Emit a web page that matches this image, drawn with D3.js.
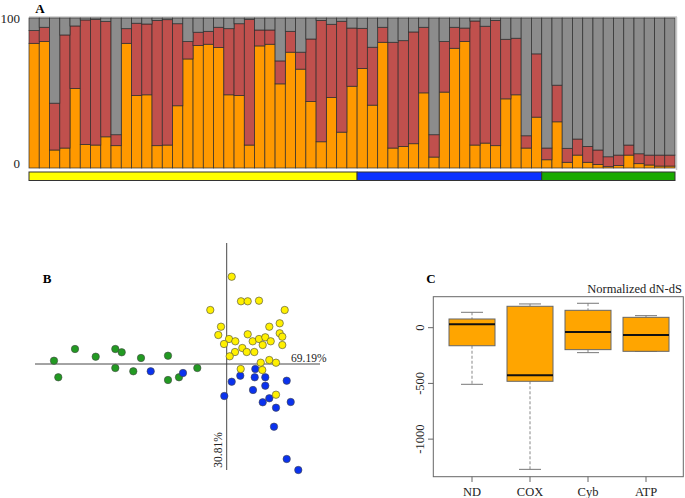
<!DOCTYPE html>
<html><head><meta charset="utf-8">
<script src="https://cdn.jsdelivr.net/npm/d3@7/dist/d3.min.js"></script>
<style>body{margin:0;background:#fff}svg{display:block}text{font-family:"Liberation Serif","DejaVu Serif",serif}</style>
</head><body><svg id="c" width="685" height="498"></svg>
<script>
// ---------- Panel A data (percent per sample) ----------
const orangePct = [83.1,84.3,12.0,13.3,53.0,15.7,15.3,20.8,14.9,83.1,48.3,48.8,14.9,15.3,41.5,72.7,81.6,82.5,80.3,48.8,48.3,15.3,81.4,82.5,56.1,77.2,65.9,44.3,17.5,47.0,23.9,54.5,
  66.3,41.9,83.8,13.3,14.4,16.2,50.1,7.3,50.6,79.8,84.3,15.3,16.6,14.9,46.1,48.8,13.3,33.9,
  5.5,30.8,3.8,8.6,3.8,2.4,0.9,1.6,8.6,2.9,2.0,1.3,1.3];
const redPct = [8.5,9.5,31.2,75.4,41.7,83.0,83.8,76.8,7.3,9.8,48.2,47.2,83.5,83.6,54.7,11.6,8.9,8.6,13.5,44.1,47.9,83.8,10.6,9.5,15.3,13.9,11.3,41.7,80.9,48.8,73.9,38.8,
  26.8,38.6,10.0,70.5,70.5,74.5,43.7,14.9,33.7,14.0,9.0,82.7,77.9,83.5,39.7,37.7,8.2,42.2,
  7.8,24.4,9.3,10.7,10.6,9.6,6.6,7.0,6.7,6.6,6.6,7.3,7.3];
const grayPct = orangePct.map((o,i)=>Math.max(0, 100 - o - redPct[i]));
const groups = [{name:"yellow",start:0,end:32},{name:"blue",start:32,end:50},{name:"green",start:50,end:63}];
const yTicksA = [0,100];

// ---------- Panel B data (PCA coordinates) ----------
const pcGreen = [[-1.727,0.033],[-1.684,-0.133],[-1.517,0.15],[-1.31,0.073],[-1.114,0.15],[-1.05,0.117],[-1.114,-0.04],[-0.934,-0.073],[-0.857,0.06],[-0.587,0.083],[-0.587,-0.16],[-0.477,-0.133],[-0.294,-0.04]];
const pcBlue = [[-0.76,-0.073],[-0.437,-0.09],[-0.024,-0.32],[0.05,-0.177],[0.136,-0.117],[0.286,-0.05],[0.28,-0.133],[0.263,-0.26],[0.386,-0.133],[0.386,-0.217],[0.426,-0.343],[0.36,-0.383],[0.493,-0.437],[0.6,-0.167],[0.64,-0.38],[0.473,-0.627],[0.6,-0.95],[0.716,-1.06]];
const pcYellow = [[0.05,0.873],[0.143,0.627],[0.21,0.627],[0.323,0.633],[-0.164,0.54],[0.58,0.54],[-0.057,0.373],[0.426,0.373],[0.53,0.407],[-0.084,0.29],[0.21,0.297],[0.53,0.307],[0.556,0.273],[0.023,0.25],[0.086,0.227],[-0.027,0.2],[0.26,0.227],[0.323,0.25],[0.386,0.267],[0.44,0.227],[0.36,0.19],[0.556,0.19],[0.156,0.16],[0.083,0.12],[0.2,0.12],[0.276,0.12],[0.03,0.077],[0.34,0.013],[0.426,0.04],[0.493,0.013],[0.14,-0.05],[0.356,-0.06],[0.493,-0.307]];
const pc1Label = "69.19%", pc2Label = "30.81%";

// ---------- Panel C data (boxplot stats) ----------
const genes = ["ND","COX","Cyb","ATP"];
const whiskLo = [-508,-1271,-224,-212];
const q1 = [-162,-481,-197,-212];
const med = [30,-427,-39,-66];
const q3 = [78,192,156,93];
const whiskHi = [138,213,219,108];
const yTicksC = [0,-500,-1000];

const svg = d3.select("#c");
const col = {orange:"#FF9900", red:"#C0504D", gray:"#8C8C8C"};
const grpCol = {yellow:"#FFFF00", blue:"#0A32FF", green:"#1AAA00"};

// ===== Panel A =====
const xA = d3.scaleBand().domain(d3.range(orangePct.length)).range([29,675]).padding(0);
const yA = d3.scaleLinear().domain([0,100]).range([168,18]);
const gA = svg.append("g");
gA.append("line").attr("x1",29).attr("x2",677).attr("y1",17).attr("y2",17).attr("stroke","#c8c8c8").attr("stroke-width",1.5);
gA.append("line").attr("x1",676.5).attr("x2",676.5).attr("y1",17).attr("y2",170).attr("stroke","#c8c8c8").attr("stroke-width",1.5);
const stackData = orangePct.map((o,i)=>({i, orange:o, red:redPct[i], gray:grayPct[i]}));
const series = d3.stack().keys(["orange","red","gray"])(stackData);
series.forEach(s=>{
  gA.selectAll(null).data(s).enter().append("rect")
    .attr("x",d=>xA(d.data.i)).attr("width",xA.bandwidth())
    .attr("y",d=>yA(d[1])).attr("height",d=>yA(d[0])-yA(d[1]))
    .attr("fill",col[s.key]).attr("stroke","#2a2a2a").attr("stroke-width",0.8).attr("stroke-opacity",0.85);
});
gA.selectAll(null).data(groups).enter().append("rect")
  .attr("x",d=>xA(d.start)).attr("width",d=>xA(d.end-1)+xA.bandwidth()-xA(d.start))
  .attr("y",172).attr("height",8.5).attr("fill",d=>grpCol[d.name]).attr("stroke","#333").attr("stroke-width",1);
gA.selectAll(null).data(yTicksA).enter().append("text")
  .attr("x",20).attr("y",d=>yA(d)+(d===100?2:-3)).attr("text-anchor","end").attr("dominant-baseline","middle")
  .attr("font-size",13).attr("fill","#222").text(d=>d);
gA.append("text").attr("x",40).attr("y",13).attr("text-anchor","middle").attr("font-size",13).attr("font-weight","bold").text("A");

// ===== Panel B =====
const xB = d3.scaleLinear().domain([-1.917,0.933]).range([35,320]);
const yB = d3.scaleLinear().domain([-1.06,1.21]).range([470,243]);
const gB = svg.append("g");
gB.append("line").attr("x1",xB.range()[0]).attr("x2",xB.range()[1]).attr("y1",yB(0)).attr("y2",yB(0)).attr("stroke","#333").attr("stroke-width",0.9);
gB.append("line").attr("x1",xB(0)).attr("x2",xB(0)).attr("y1",yB.range()[1]).attr("y2",yB.range()[0]).attr("stroke","#333").attr("stroke-width",0.9);
const pts = [].concat(pcGreen.map(p=>({p,c:"#229A22"})), pcBlue.map(p=>({p,c:"#0A32EE"})), pcYellow.map(p=>({p,c:"#FFF000"})));
gB.selectAll("circle").data(pts).enter().append("circle")
  .attr("cx",d=>xB(d.p[0])).attr("cy",d=>yB(d.p[1])).attr("r",3.7)
  .attr("fill",d=>d.c).attr("stroke","#444").attr("stroke-width",0.6);
gB.append("text").attr("x",291).attr("y",362).attr("font-size",11.5).attr("fill","#222").text(pc1Label);
gB.append("text").attr("transform","translate(222,450) rotate(-90)").attr("text-anchor","middle").attr("font-size",11.5).attr("fill","#222").text(pc2Label);
gB.append("text").attr("x",47).attr("y",283).attr("text-anchor","middle").attr("font-size",13).attr("font-weight","bold").text("B");

// ===== Panel C =====
const xC = d3.scalePoint().domain(genes).range([472,646]);
const yC = d3.scaleLinear().domain([-1337,278]).range([476.7,296.7]);
const gC = svg.append("g");
gC.append("rect").attr("x",433.3).attr("y",296.7).attr("width",250).attr("height",180).attr("fill","none").attr("stroke","#666").attr("stroke-width",1);
gC.selectAll(null).data(yTicksC).enter().append("line")
  .attr("x1",428).attr("x2",433.3).attr("y1",d=>yC(d)).attr("y2",d=>yC(d)).attr("stroke","#666");
gC.selectAll(null).data(yTicksC).enter().append("text")
  .attr("transform",d=>`translate(424,${yC(d)}) rotate(-90)`).attr("text-anchor","middle")
  .attr("font-size",12.5).attr("fill","#222").text(d=>d);
gC.selectAll(null).data(genes).enter().append("line")
  .attr("x1",d=>xC(d)).attr("x2",d=>xC(d)).attr("y1",476.7).attr("y2",482).attr("stroke","#666");
gC.selectAll(null).data(genes).enter().append("text")
  .attr("x",d=>xC(d)).attr("y",495.5).attr("text-anchor","middle").attr("font-size",12.5).attr("fill","#222").text(d=>d);
const bw = 46, cw = 22;
genes.forEach((g,i)=>{
  const cx = xC(g);
  gC.append("line").attr("x1",cx).attr("x2",cx).attr("y1",yC(whiskHi[i])).attr("y2",yC(q3[i])).attr("stroke","#888").attr("stroke-dasharray","3,2");
  gC.append("line").attr("x1",cx).attr("x2",cx).attr("y1",yC(q1[i])).attr("y2",yC(whiskLo[i])).attr("stroke","#888").attr("stroke-dasharray","3,2");
  gC.append("line").attr("x1",cx-cw/2).attr("x2",cx+cw/2).attr("y1",yC(whiskHi[i])).attr("y2",yC(whiskHi[i])).attr("stroke","#777");
  gC.append("line").attr("x1",cx-cw/2).attr("x2",cx+cw/2).attr("y1",yC(whiskLo[i])).attr("y2",yC(whiskLo[i])).attr("stroke","#777");
  gC.append("rect").attr("x",cx-bw/2).attr("width",bw).attr("y",yC(q3[i])).attr("height",yC(q1[i])-yC(q3[i]))
    .attr("fill","#FFA500").attr("stroke","#666").attr("stroke-width",1);
  gC.append("line").attr("x1",cx-bw/2).attr("x2",cx+bw/2).attr("y1",yC(med[i])).attr("y2",yC(med[i])).attr("stroke","#111").attr("stroke-width",2);
});
gC.append("text").attr("x",682).attr("y",293).attr("text-anchor","end").attr("font-size",12.5).attr("fill","#222").text("Normalized dN-dS");
gC.append("text").attr("x",431).attr("y",283).attr("text-anchor","middle").attr("font-size",13).attr("font-weight","bold").text("C");
</script></body></html>
